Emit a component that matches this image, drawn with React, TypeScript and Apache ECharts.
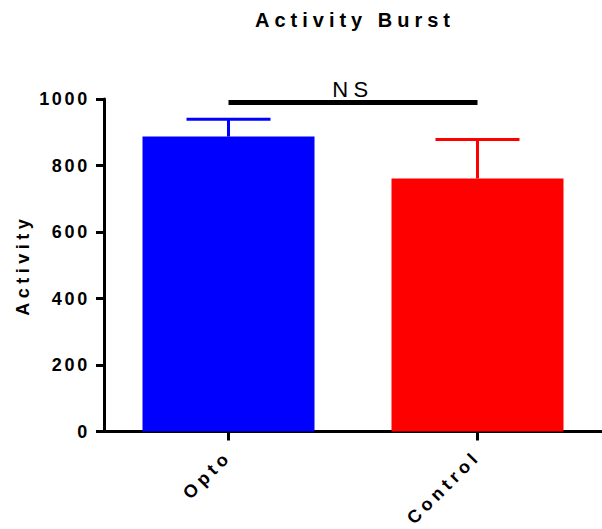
import React, { useEffect, useRef } from 'react';
import * as echarts from 'echarts';

const titleText = 'Activity Burst';
const yAxisName = 'Activity';
const categories = ['Opto', 'Control'];
const means = [887, 761];
const errorsUp = [52, 117];
const barColors = ['#0000FF', '#FF0000'];
const yMin = 0;
const yMax = 1000;
const yInterval = 200;
const nsLevel = 990;
const nsLabel = 'NS';

const FONT = 'Liberation Sans, sans-serif';
const TICK_FONT = 'Liberation Sans, Arial';

export default function App() {
  const ref = useRef<HTMLDivElement>(null);

  useEffect(() => {
    if (!ref.current) return;
    const chart = echarts.init(ref.current, null, { renderer: 'svg' });
    const option: any = {
      animation: false,
      backgroundColor: '#ffffff',
      title: {
        text: titleText,
        left: 355,
        top: 10,
        padding: 0,
        textAlign: 'center',
        textStyle: { fontFamily: FONT, fontSize: 20, fontWeight: 'bold', color: '#000' },
      },
      grid: { left: 104, right: -2, top: 99, bottom: 97.5, containLabel: false },
      xAxis: {
        type: 'category',
        data: categories,
        axisLine: { show: true, lineStyle: { color: '#000', width: 3 } },
        axisTick: { show: true, alignWithLabel: true, length: 9, lineStyle: { color: '#000', width: 3 } },
        axisLabel: {
          rotate: 45,
          margin: 22,
          fontFamily: FONT,
          fontSize: 18,
          fontWeight: 'bold',
          color: '#000',
        },
        splitLine: { show: false },
      },
      yAxis: {
        type: 'value',
        min: yMin,
        max: yMax,
        interval: yInterval,
        name: yAxisName,
        nameLocation: 'middle',
        nameGap: 72,
        nameTextStyle: { fontFamily: FONT, fontSize: 18, fontWeight: 'bold', color: '#000' },
        axisLine: { show: true, lineStyle: { color: '#000', width: 3 } },
        axisTick: { show: true, length: 8, lineStyle: { color: '#000', width: 3 } },
        axisLabel: {
          margin: 14,
          formatter: (v: number) => String(v),
          fontFamily: TICK_FONT,
          fontSize: 18,
          fontWeight: 'bold',
          color: '#000',
        },
        splitLine: { show: false },
      },
      series: [
        {
          type: 'bar',
          barWidth: 172,
          data: means.map((v, i) => ({ value: v, itemStyle: { color: barColors[i] } })),
          z: 2,
          markLine: {
            silent: true,
            symbol: ['none', 'none'],
            lineStyle: { color: '#000', width: 5, type: 'solid' },
            label: {
              show: true,
              position: 'middle',
              formatter: nsLabel,
              fontFamily: FONT,
              fontSize: 22,
              color: '#000',
              distance: 2,
            },
            data: [[{ coord: [categories[0], nsLevel] }, { coord: [categories[1], nsLevel] }]],
          },
        },
        {
          type: 'custom',
          z: 3,
          encode: { x: 0, y: [1, 2] },
          data: means.map((v, i) => [i, v, v + errorsUp[i]]),
          renderItem: (params: any, api: any) => {
            const x = api.value(0);
            const lo = api.coord([x, api.value(1)]);
            const hi = api.coord([x, api.value(2)]);
            const half = 42;
            const color = barColors[params.dataIndex];
            return {
              type: 'group',
              children: [
                { type: 'line', shape: { x1: lo[0], y1: lo[1], x2: hi[0], y2: hi[1] }, style: { stroke: color, lineWidth: 3 } },
                { type: 'line', shape: { x1: hi[0] - half, y1: hi[1], x2: hi[0] + half, y2: hi[1] }, style: { stroke: color, lineWidth: 3 } },
              ],
            };
          },
        },
      ],
    };
    chart.setOption(option);
    return () => chart.dispose();
  }, []);

  return (
    <>
      <style>{`
        .chartbox text { letter-spacing: 0.25em; }
        .chartbox text[style*="Arial"] { letter-spacing: 0.15em; }
      `}</style>
      <div
        ref={ref}
        className="chartbox"
        style={{ position: 'absolute', left: 0, top: 0, width: 602, height: 529 }}
      />
    </>
  );
}
